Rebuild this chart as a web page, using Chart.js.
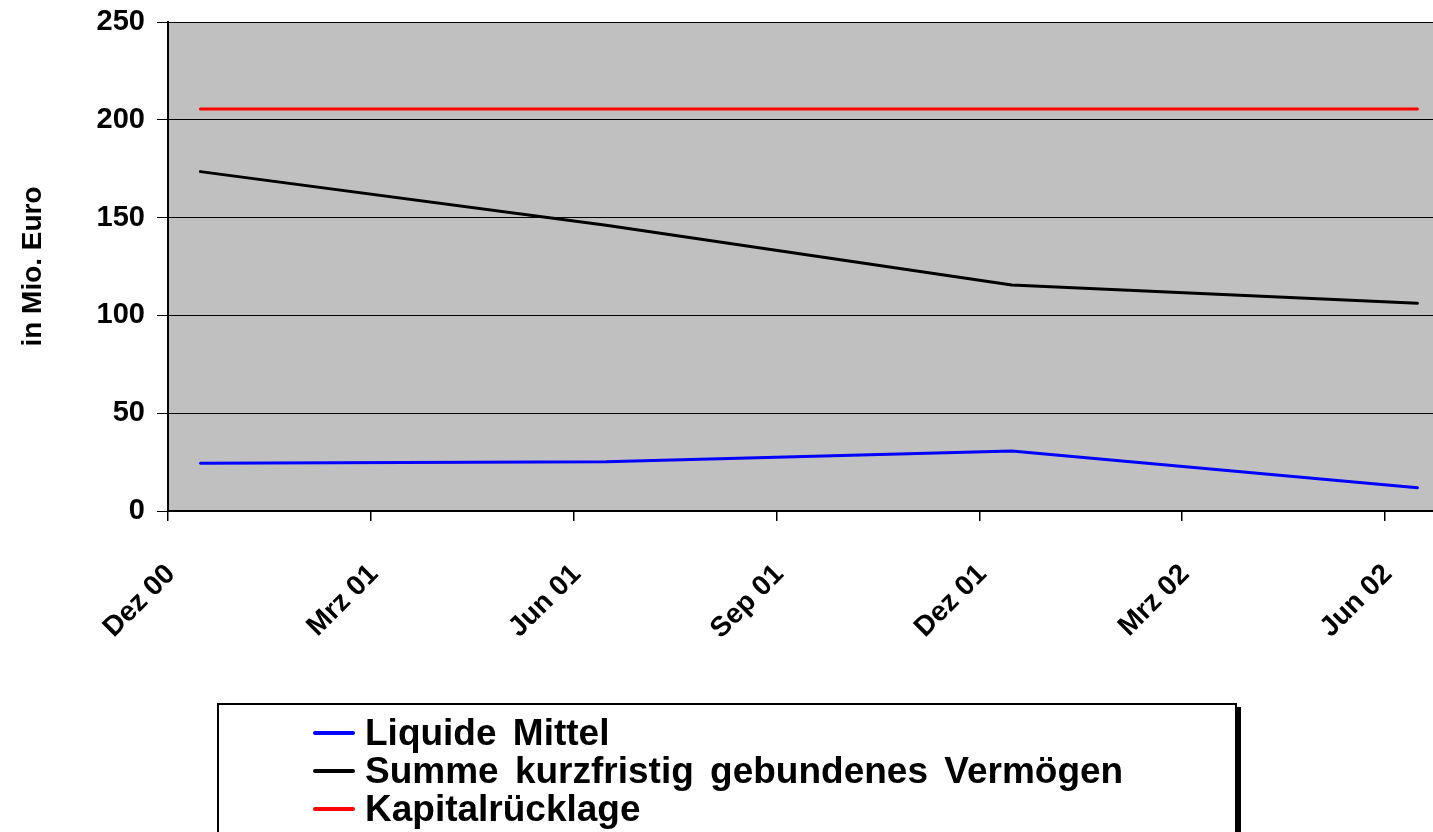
<!DOCTYPE html>
<html>
<head>
<meta charset="utf-8">
<script src="https://cdn.jsdelivr.net/npm/chart.js@4.4.1/dist/chart.umd.min.js"></script>
<style>
  html, body { margin: 0; padding: 0; background: #fff; }
  #wrap { position: relative; width: 1433px; height: 832px; overflow: hidden; }
  #legend {
    position: absolute; left: 217px; top: 703px; width: 1016px; height: 160px;
    border: 2px solid #000; box-shadow: 4px 4px 0 #000; background: #fff;
    font: bold 37px "Liberation Sans", Arial, sans-serif;
  }
  .row { position: absolute; left: 94px; height: 38px; line-height: 38px; white-space: nowrap; word-spacing: 6px; }
  .row span.swatch { display: inline-block; width: 42px; height: 4px; border-radius: 2px; vertical-align: middle; margin-right: 10px; position: relative; top: -2px; }
</style>
</head>
<body>
<div id="wrap">
  <canvas id="myChart" width="1433" height="832"></canvas>
  <div id="legend"></div>
</div>
<script>
// months since Dez 00
const tickMonths = [0, 3, 6, 9, 12, 15, 18];
const tickLabels = ["Dez 00", "Mrz 01", "Jun 01", "Sep 01", "Dez 01", "Mrz 02", "Jun 02"];
const pointMonths = [0.48, 6.48, 12.48, 18.48];

const liquideMittel = [24.4, 25.2, 30.7, 11.9];
const summeKurzfristig = [173.5, 146.1, 115.5, 106.2];
const kapitalruecklage = [205.5, 205.5, 205.5, 205.5];

const yTicks = [0, 50, 100, 150, 200, 250];

const toPoints = (vals) => vals.map((v, i) => ({ x: pointMonths[i], y: v }));
const fontFamily = '"Liberation Sans", Arial, sans-serif';

const plotBackground = {
  id: "plotBackground",
  beforeDraw(chart) {
    const { ctx, chartArea: a } = chart;
    ctx.save();
    ctx.fillStyle = "#c0c0c0";
    ctx.fillRect(a.left, a.top, a.right - a.left, a.bottom - a.top);
    ctx.restore();
  },
};

// rotated month labels, Excel style
const xLabels = {
  id: "xLabels",
  afterDraw(chart) {
    const { ctx, scales } = chart;
    const x = scales.x;
    ctx.save();
    ctx.fillStyle = "#000";
    ctx.font = "bold 28px " + fontFamily;
    ctx.textAlign = "right";
    ctx.textBaseline = "top";
    tickMonths.forEach((m, i) => {
      ctx.save();
      ctx.translate(x.getPixelForValue(m) - 7, x.top + 49);
      ctx.rotate(-Math.PI / 4);
      ctx.fillText(tickLabels[i], 0, 0);
      ctx.restore();
    });
    ctx.restore();
  },
};

const chart = new Chart(document.getElementById("myChart").getContext("2d"), {
  type: "line",
  data: {
    datasets: [
      { label: "Liquide Mittel", data: toPoints(liquideMittel), borderColor: "#0000ff" },
      { label: "Summe kurzfristig gebundenes Vermögen", data: toPoints(summeKurzfristig), borderColor: "#000000" },
      { label: "Kapitalrücklage", data: toPoints(kapitalruecklage), borderColor: "#ff0000" },
    ],
  },
  plugins: [plotBackground, xLabels],
  options: {
    responsive: false,
    animation: false,
    layout: { padding: { top: 22, right: 0, bottom: 0, left: 0 } },
    elements: {
      line: { borderWidth: 3, tension: 0, borderCapStyle: "round", borderJoinStyle: "round" },
      point: { radius: 0, hoverRadius: 0 },
    },
    plugins: { legend: { display: false }, tooltip: { enabled: false } },
    scales: {
      x: {
        type: "linear",
        min: 0,
        max: 18.71,
        afterBuildTicks: (s) => { s.ticks = tickMonths.map((v) => ({ value: v })); },
        afterFit: (s) => { s.height = 321; s.paddingLeft = 0; s.paddingRight = 0; },
        grid: { drawOnChartArea: false, color: "#000", lineWidth: 1.5, tickLength: 10 },
        border: { color: "#000", width: 2 },
        ticks: { display: false },
      },
      y: {
        min: 0,
        max: 250,
        afterBuildTicks: (s) => { s.ticks = yTicks.map((v) => ({ value: v })); },
        afterFit: (s) => { s.width = 168; s.paddingTop = 0; s.paddingBottom = 0; },
        grid: { color: "#000", lineWidth: 1, tickLength: 11 },
        border: { color: "#000", width: 2 },
        ticks: {
          color: "#000",
          font: { family: fontFamily, size: 29, weight: "bold" },
          padding: 12,
        },
        title: {
          display: true,
          text: "in Mio. Euro",
          color: "#000",
          font: { family: fontFamily, size: 28, weight: "bold" },
          padding: { top: 16, bottom: 0 },
        },
      },
    },
  },
});

// legend built from the chart datasets
const legendEl = document.getElementById("legend");
chart.data.datasets.forEach((ds, i) => {
  const row = document.createElement("div");
  row.className = "row";
  row.style.top = (9 + i * 38) + "px";
  row.innerHTML = '<span class="swatch" style="background:' + ds.borderColor + '"></span>' + ds.label;
  legendEl.appendChild(row);
});
</script>
</body>
</html>
